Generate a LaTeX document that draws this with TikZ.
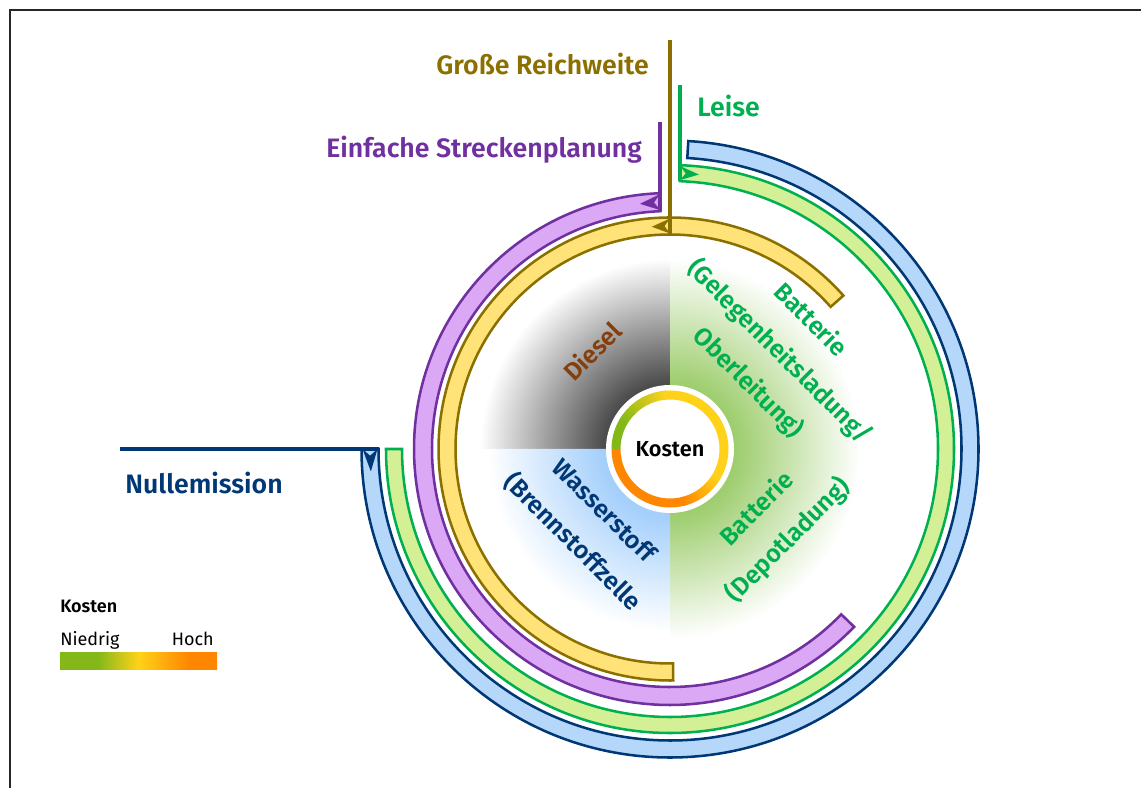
\documentclass[tikz,border=0pt]{standalone}
\usepackage{fontspec}
\setmainfont{Fira Sans}[BoldFont={Fira Sans SemiBold}]
\usetikzlibrary{calc}

% band fills and outlines
\definecolor{fYellow}{RGB}{255,227,120}
\definecolor{dYellow}{RGB}{139,112,0}
\definecolor{fPurple}{RGB}{218,168,245}
\definecolor{dPurple}{RGB}{112,48,160}
\definecolor{fGreen}{RGB}{212,240,150}
\definecolor{dGreen}{RGB}{0,176,80}
\definecolor{fBlue}{RGB}{180,215,250}
\definecolor{dBlue}{RGB}{0,56,118}
\definecolor{dieselBrown}{RGB}{133,62,12}
% cost scale
\definecolor{cGreen}{RGB}{132,184,25}
\definecolor{cYellow}{RGB}{255,210,25}
\definecolor{cOrange}{RGB}{255,134,0}
% quadrant tints
\definecolor{qGray}{RGB}{20,20,20}
\definecolor{qGreen}{RGB}{128,190,66}
\definecolor{qBlue}{RGB}{135,192,250}

\pgfdeclareradialshading{dieselfade}{\pgfpointorigin}{color(0bp)=(qGray); color(9bp)=(qGray!75!white); color(25bp)=(white); color(50bp)=(white)}
\pgfdeclareradialshading{greenfade}{\pgfpointorigin}{color(0bp)=(qGreen); color(9bp)=(qGreen!75!white); color(25bp)=(white); color(50bp)=(white)}
\pgfdeclareradialshading{bluefade}{\pgfpointorigin}{color(0bp)=(qBlue); color(9bp)=(qBlue!75!white); color(24bp)=(white); color(50bp)=(white)}
\pgfdeclarehorizontalshading{costbar}{100bp}{color(0bp)=(cGreen); color(37bp)=(cGreen); color(50bp)=(cYellow); color(66bp)=(cOrange); color(100bp)=(cOrange)}

% annular band: radius, width, start angle, end angle, fill, outline
\newcommand{\ringband}[6]{%
  \pgfmathsetmacro{\bandro}{#1+#2/2}\pgfmathsetmacro{\bandri}{#1-#2/2}%
  \filldraw[fill=#5,draw=#6,line width=1.9pt]
    (#3:\bandro) arc[start angle=#3,end angle=#4,radius=\bandro]
    -- (#4:\bandri) arc[start angle=#4,end angle=#3,radius=\bandri] -- cycle;}
% arrow-shaped marker inside a band: radius, width, base angle, tip angle, colour
\newcommand{\bandhead}[5]{%
  \pgfmathsetmacro{\bandro}{#1+#2/2-1}\pgfmathsetmacro{\bandri}{#1-#2/2+1}%
  \pgfmathsetmacro{\bandna}{#3+(#4-#3)*0.3}%
  \fill[#5] (#3:\bandro) -- (#4:#1) -- (#3:\bandri) -- (\bandna:#1) -- cycle;}

\tikzset{
  biglabel/.style={font=\bfseries\fontsize{20}{24}\selectfont, inner sep=0pt},
  sectorlabel/.style={font=\bfseries\fontsize{18.75}{33}\selectfont, align=center, inner sep=0pt},
  stem/.style={line width=2.3pt},
  legendtext/.style={font=\fontsize{13.5}{15}\selectfont, inner sep=0pt}
}

\begin{document}
\begin{tikzpicture}[x=0.75pt,y=0.75pt,line join=miter]
\useasboundingbox (0,0) rectangle (1141,788);
\coordinate (C) at (670,339);

% frame
\draw[line width=1.1pt, black!85] (10,0) -- (10,778) -- (1141,778);

% shaded quadrants round the centre
\foreach \sa/\sh in {90/dieselfade, 0/greenfade, 270/greenfade, 180/bluefade} {
  \begin{scope}
    \clip (C) -- ($(C)+(\sa:192)$) arc[start angle=\sa, delta angle=90, radius=192] -- cycle;
    \shade[shading=\sh] (C) circle[radius=190];
  \end{scope}
}

\begin{scope}[shift={(C)}]
  % bands
  \ringband{300}{17}{180}{446.6}{fBlue}{dBlue}
  \ringband{276}{16}{180}{447.9}{fGreen}{dGreen}
  \ringband{247}{18}{92.3}{316}{fPurple}{dPurple}
  \ringband{223}{17}{41.5}{270.8}{fYellow}{dYellow}

  % markers where the leader lines meet the bands
  \bandhead{247}{18}{92.3}{97}{dPurple}
  \bandhead{223}{17}{90}{94.7}{dYellow}
  \bandhead{276}{16}{87.9}{84}{dGreen}
  \bandhead{300}{17}{180}{184.3}{dBlue}

  % leader lines
  \coordinate (yTop) at (0,409);   \coordinate (yEnd) at (0,214.5);
  \coordinate (pTop) at (-10,327); \coordinate (pEnd) at (-10,237.8);
  \coordinate (gTop) at (10,364);  \coordinate (gEnd) at (10,267.8);
  \coordinate (bTop) at (-550,0);  \coordinate (bEnd) at (-291.5,0);
  \draw[stem, dYellow] (yTop) -- (yEnd);
  \draw[stem, dPurple] (pTop) -- (pEnd);
  \draw[stem, dGreen]  (gTop) -- (gEnd);
  \draw[stem, dBlue, line width=2.6pt] (bTop) -- (bEnd);

  % cost gauge in the middle
  \fill[white] (0,0) circle[radius=64];
  \begin{scope}[line width=6.75pt, line cap=butt]
    \draw[cGreen] (180:54) arc[start angle=180, end angle=149.5, radius=54];
    \foreach \a in {150,148,...,96} {
      \pgfmathtruncatemacro{\p}{(\a-95)/55*100}
      \draw[draw=cGreen!\p!cYellow] (\a:54) arc[start angle=\a, end angle=\a-2.4, radius=54];
    }
    \draw[cYellow] (95.5:54) arc[start angle=95.5, end angle=-30.5, radius=54];
    \foreach \a in {-30,-32,...,-74} {
      \pgfmathtruncatemacro{\p}{(\a+75)/45*100}
      \draw[draw=cYellow!\p!cOrange] (\a:54) arc[start angle=\a, end angle=\a-2.4, radius=54];
    }
    \draw[cOrange] (-75:54) arc[start angle=-75, end angle=-180, radius=54];
  \end{scope}
  \node[font=\bfseries\fontsize{16.3}{18}\selectfont] (kosten) at (0,0) {Kosten};
\end{scope}

% outer labels
\node[biglabel, text=dYellow, anchor=base east] (reichweite) at (649,713) {Große Reichweite};
\node[biglabel, text=dGreen, anchor=base west] (leise) at (697,671) {Leise};
\node[biglabel, text=dPurple, anchor=base east] (strecke) at (642,630) {Einfache Streckenplanung};
\node[biglabel, text=dBlue, anchor=base west] (nullem) at (125,294) {Nullemission};

% sector labels
\node[sectorlabel, text=dieselBrown, rotate=45] (diesel) at (592,437) {Diesel};
\node[sectorlabel, text=dGreen, rotate=-45] (oberl) at (779,436) {Batterie\\(Gelegenheitsladung/\\Oberleitung)};
\node[sectorlabel, text=dBlue, rotate=-45] (wasser) at (588,261) {Wasserstoff\\(Brennstoffzelle};
\node[sectorlabel, text=dGreen, rotate=45] (depot) at (773,263) {Batterie\\(Depotladung)};

% legend
\node[legendtext, font=\bfseries\fontsize{13.5}{15}\selectfont, anchor=base west] (legtitle) at (60,175) {Kosten};
\node[legendtext, anchor=base west] (leglow) at (60,142) {Niedrig};
\node[legendtext, anchor=base east] (leghigh) at (214,142) {Hoch};
\shade[shading=costbar] (60,118) rectangle (217,135);
\end{tikzpicture}
\end{document}
